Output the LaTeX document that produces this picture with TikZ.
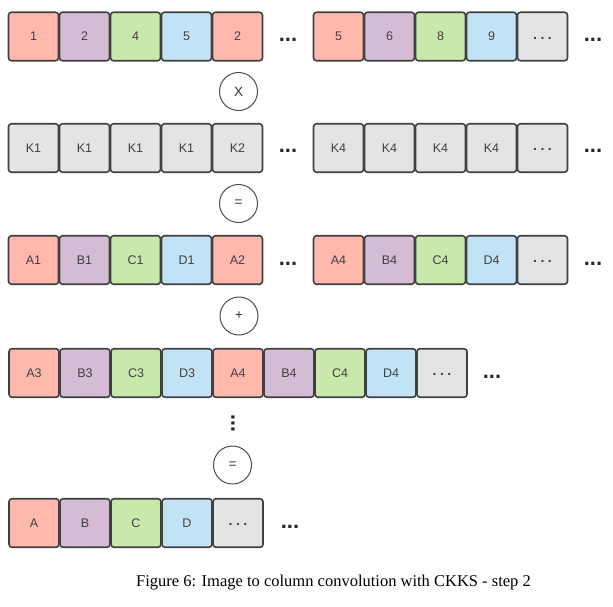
\documentclass[tikz,border=0pt]{standalone}
\usepackage{fontspec}
\setmainfont{Liberation Serif}
\setsansfont{Liberation Sans}
\begin{document}
\begin{tikzpicture}[x=1pt,y=-1pt,
  cell/.style={draw=black!75, line width=1.6pt, rounded corners=3pt, minimum width=50pt, minimum height=48.5pt, inner sep=0pt, font=\sffamily\fontsize{12.5}{14}\selectfont, text=black!75},
  cr/.style={cell, fill={rgb,255:red,255;green,184;blue,172}},
  cp/.style={cell, fill={rgb,255:red,213;green,188;blue,213}},
  cg/.style={cell, fill={rgb,255:red,201;green,232;blue,172}},
  cb/.style={cell, fill={rgb,255:red,194;green,227;blue,246}},
  cq/.style={cell, fill={rgb,255:red,228;green,228;blue,228}},
  more/.style={inner sep=0pt, font=\sffamily\bfseries\fontsize{22}{22}\selectfont, text=black!85},
  op/.style={circle, draw=black!70, line width=1pt, minimum size=38pt, inner sep=0pt, font=\sffamily\fontsize{13.5}{14}\selectfont, text=black!80},
  captext/.style={font=\fontsize{16.5}{18}\selectfont, inner sep=0pt}
]
\useasboundingbox (0,0) rectangle (613,606);
\newcommand{\gd}{\raisebox{-2.5pt}[0pt][0pt]{\bfseries\fontsize{14}{14}\selectfont.\hspace{3.5pt}.\hspace{3.5pt}.}}
% Row 1
\node[cr] (r1a) at (33.5,36.5) {1};
\node[cp] (r1b) at (84.5,36.5) {2};
\node[cg] (r1c) at (135.5,36.5) {4};
\node[cb] (r1d) at (186.5,36.5) {5};
\node[cr] (r1e) at (237.5,36.5) {2};
\node[more] (r1m) at (288,39.5) {...};
\node[cr] (r1f) at (338.5,36.5) {5};
\node[cp] (r1g) at (389.5,36.5) {6};
\node[cg] (r1h) at (440.5,36.5) {8};
\node[cb] (r1i) at (491.5,36.5) {9};
\node[cq] (r1j) at (542.5,36.5) {\gd};
\node[more] (r1n) at (593,39.5) {...};
\node[op] (o1) at (238.5,91.5) {X};
% Row 2
\node[cq] (r2a) at (33.5,148) {K1};
\node[cq] (r2b) at (84.5,148) {K1};
\node[cq] (r2c) at (135.5,148) {K1};
\node[cq] (r2d) at (186.5,148) {K1};
\node[cq] (r2e) at (237.5,148) {K2};
\node[more] (r2m) at (288,151) {...};
\node[cq] (r2f) at (338.5,148) {K4};
\node[cq] (r2g) at (389.5,148) {K4};
\node[cq] (r2h) at (440.5,148) {K4};
\node[cq] (r2i) at (491.5,148) {K4};
\node[cq] (r2j) at (542.5,148) {\gd};
\node[more] (r2n) at (593,151) {...};
\node[op] (o2) at (238.5,203.5) {=};
% Row 3
\node[cr] (r3a) at (33.5,260) {A1};
\node[cp] (r3b) at (84.5,260) {B1};
\node[cg] (r3c) at (135.5,260) {C1};
\node[cb] (r3d) at (186.5,260) {D1};
\node[cr] (r3e) at (237.5,260) {A2};
\node[more] (r3m) at (288,263.5) {...};
\node[cr] (r3f) at (338.5,260) {A4};
\node[cp] (r3g) at (389.5,260) {B4};
\node[cg] (r3h) at (440.5,260) {C4};
\node[cb] (r3i) at (491.5,260) {D4};
\node[cq] (r3j) at (542.5,260) {\gd};
\node[more] (r3n) at (593,263.5) {...};
\node[op] (o3) at (239,316) {+};
% Row 4
\node[cr] (r4a) at (34,373) {A3};
\node[cp] (r4b) at (85,373) {B3};
\node[cg] (r4c) at (136,373) {C3};
\node[cb] (r4d) at (187,373) {D3};
\node[cr] (r4e) at (238,373) {A4};
\node[cp] (r4f) at (289,373) {B4};
\node[cg] (r4g) at (340,373) {C4};
\node[cb] (r4h) at (391,373) {D4};
\node[cq] (r4i) at (442,373) {\gd};
\node[more] (r4m) at (492,376.5) {...};
\node[more, rotate=90] (vd) at (233,423.5) {...};
\node[op] (o4) at (232.5,465) {=};
% Row 5
\node[cr] (r5a) at (34,523) {A};
\node[cp] (r5b) at (85,523) {B};
\node[cg] (r5c) at (136,523) {C};
\node[cb] (r5d) at (187,523) {D};
\node[cq] (r5e) at (238,523) {\gd};
\node[more] (r5m) at (290,526.5) {...};
% Caption
\node[captext] (caption) at (333.5,583) {Figure 6: Image to column convolution with CKKS - step 2};
\end{tikzpicture}
\end{document}
